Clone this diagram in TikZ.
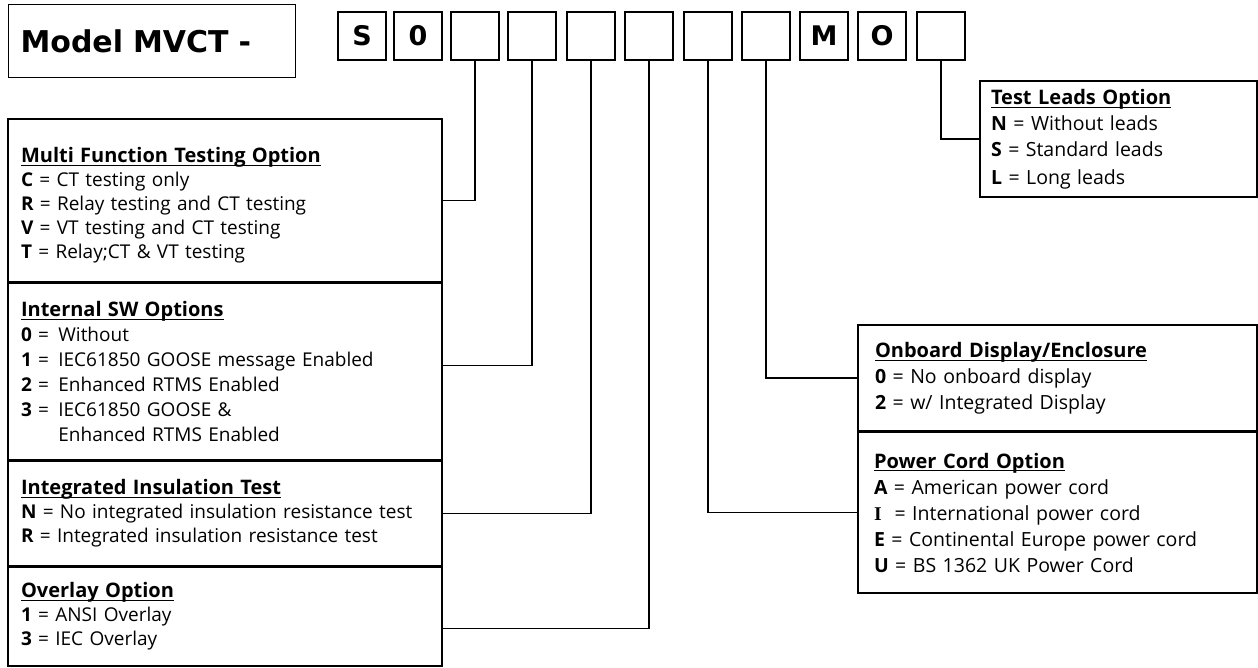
\documentclass[tikz,border=0pt]{standalone}
\usepackage{fontspec}
\usepackage{amsmath}
\setmainfont{Open Sans}
\newfontfamily\heavyfont{DejaVu Sans}
\newfontfamily\serifletter{Liberation Serif}
\usetikzlibrary{positioning}

\tikzset{
  codebox/.style={draw, line width=1.1pt, outer sep=0pt, minimum width=48pt, minimum height=48pt, inner sep=0pt,
    font=\heavyfont\bfseries\fontsize{27}{27}\selectfont},
  leftopt/.style={draw, line width=1.1pt, outer sep=0pt, anchor=north west, align=left, inner xsep=13pt, inner ysep=0pt,
    text width=408pt, minimum width=434pt, font=\fontsize{19}{24}\selectfont},
  rightopt/.style={draw, line width=1.1pt, outer sep=0pt, anchor=north west, align=left, inner ysep=0pt,
    font=\fontsize{19.5}{26}\selectfont},
  link/.style={line width=1.1pt},
}
\newcommand{\opttitle}[2][0pt]{\rule{0pt}{#1}{\fontsize{20}{24}\selectfont\underline{\smash[b]{\textbf{#2}}}}}

\begin{document}
\begin{tikzpicture}[x=1pt, y=-1pt]
\useasboundingbox (0,0) rectangle (1258,668);

% Model header
\node[draw, line width=1.1pt, anchor=north west, minimum width=287pt, minimum height=73pt,
  text width=263pt, inner xsep=12pt, align=left, font=\heavyfont\bfseries\fontsize{30}{30}\selectfont]
  (model) at (8,4) {Model MVCT -};

% Code boxes
\foreach \cx/\ch [count=\i] in {362/S,418/0,475/{},532/{},591/{},649/{},708/{},766/{},824/M,882/O,941/{}}
  \node[codebox] (c\i) at (\cx,36) {\ch};

% Left options
\node[leftopt, minimum height=163pt] (mf) at (8,119) {%
  \opttitle[25pt]{Multi Function Testing Option}\\
  \textbf{C} = CT testing only\\
  \textbf{R} = Relay testing and CT testing\\
  \textbf{V} = VT testing and CT testing\\
  \textbf{T} = Relay;CT \& VT testing};
\node[leftopt, minimum height=177pt, font=\fontsize{19}{25}\selectfont] (isw) at ([yshift=-1pt]mf.south west) {%
  \opttitle{Internal SW Options}\\
  \textbf{0} = \hspace{3pt}Without\\
  \textbf{1} = \hspace{3pt}IEC61850 GOOSE message Enabled\\
  \textbf{2} = \hspace{3pt}Enhanced RTMS Enabled\\
  \textbf{3} = \hspace{3pt}IEC61850 GOOSE \&\\
  \hphantom{\textbf{3} = \hspace{3pt}}Enhanced RTMS Enabled};
\node[leftopt, minimum height=105pt] (iit) at ([yshift=-1pt]isw.south west) {%
  \opttitle{Integrated Insulation Test}\\
  \textbf{N} = No integrated insulation resistance test\\
  \textbf{R} = Integrated insulation resistance test};
\node[leftopt, minimum height=99pt] (ovl) at ([yshift=-1pt]iit.south west) {%
  \opttitle{Overlay Option}\\
  \textbf{1} = ANSI Overlay\\
  \textbf{3} = IEC Overlay};

% Right options
\node[rightopt, inner xsep=11pt, text width=255pt, minimum width=277pt, minimum height=116pt] (tld) at (980,81) {%
  \opttitle{Test Leads Option}\\
  \textbf{N} = Without leads\\
  \textbf{S} = Standard leads\\[2pt]
  \textbf{L} = Long leads};
\node[rightopt, inner xsep=17pt, text width=365pt, minimum width=399pt, minimum height=106pt] (odp) at (858,325) {%
  \opttitle{Onboard Display/Enclosure}\\
  \textbf{0} = No onboard display\\
  \textbf{2} = w/ Integrated Display};
\node[rightopt, inner xsep=16pt, text width=367pt, minimum width=399pt, minimum height=161pt] (pwr) at ([yshift=-1pt]odp.south west) {%
  \opttitle{Power Cord Option}\\
  \textbf{A} = American power cord\\
  {\serifletter\bfseries I}\ \ = International power cord\\
  \textbf{E} = Continental Europe power cord\\
  \textbf{U} = BS 1362 UK Power Cord};

% Connectors
\draw[link] (c3.south) |- (mf.east);
\draw[link] (c4.south) |- ([yshift=6pt]isw.east);
\draw[link] (c5.south) |- (iit.east);
\draw[link] (c6.south) |- ([yshift=-12pt]ovl.east);
\draw[link] (c7.south) |- (pwr.west);
\draw[link] (c8.south) |- (odp.west);
\draw[link] (c11.south) |- (tld.west);
\end{tikzpicture}
\end{document}
